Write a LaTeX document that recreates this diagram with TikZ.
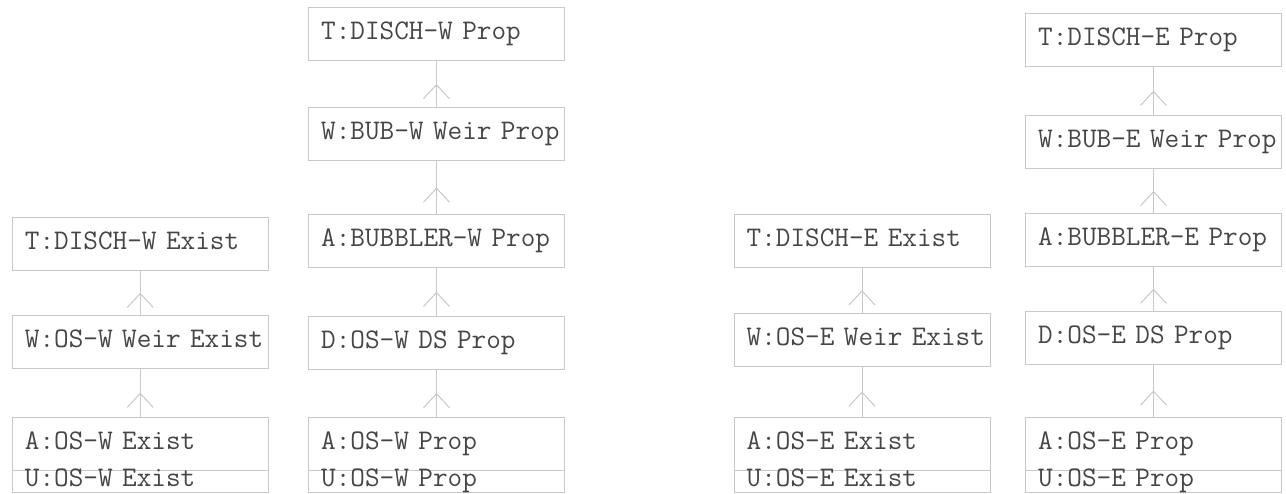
\documentclass[tikz,border=0pt]{standalone}
\usepackage{fontspec}
\usepackage{xcolor}
\usepackage{tikz}
\usetikzlibrary{positioning, arrows.meta, decorations.markings}
\definecolor{boxgray}{RGB}{200,200,200}
\definecolor{textgray}{RGB}{70,70,70}

\begin{document}
\begin{tikzpicture}[x=0.75pt, y=-0.75pt,
  unit/.style={draw=boxgray, line width=0.75pt, outer sep=0pt, inner xsep=9.5pt, text width=173pt, align=left, minimum height=39.75pt, text height=11.25pt, text depth=3pt, font=\ttfamily\fontsize{21.3}{24}\selectfont, text=textgray, execute at begin node={\hbox\bgroup}, execute at end node={\egroup}},
  sub/.style={unit, minimum height=16.9pt, inner ysep=0pt},
  flow/.style={boxgray, line width=0.75pt, postaction={decorate}, decoration={markings, mark=at position 0.5 with {\arrow{Straight Barb[length=10.5pt, width=19.5pt, line width=0.75pt]}}}}]
\useasboundingbox (0,0) rectangle (1286,493);
\node[unit] (dischWex) at (140.25,243.5) {T:DISCH-W Exist};
\node[unit] (weirWex) at (140.25,342) {W:OS-W Weir Exist};
\node[unit] (osWex) at (140.25,443.5) {A:OS-W Exist};
\node[sub, below=0pt of osWex] (usWex) {U:OS-W Exist};
\node[unit] (dischWpr) at (436.5,34) {T:DISCH-W Prop};
\node[unit] (bubW) at (436.5,134) {W:BUB-W Weir Prop};
\node[unit] (bubblerW) at (436.5,241) {A:BUBBLER-W Prop};
\node[unit] (dsW) at (436.5,342.5) {D:OS-W DS Prop};
\node[unit] (osWpr) at (436.5,443.5) {A:OS-W Prop};
\node[sub, below=0pt of osWpr] (usWpr) {U:OS-W Prop};
\node[unit] (dischEex) at (862,241) {T:DISCH-E Exist};
\node[unit] (weirEex) at (862,339.5) {W:OS-E Weir Exist};
\node[unit] (osEex) at (862,443.5) {A:OS-E Exist};
\node[sub, below=0pt of osEex] (usEex) {U:OS-E Exist};
\node[unit] (dischEpr) at (1153.5,39.5) {T:DISCH-E Prop};
\node[unit] (bubE) at (1153.5,142) {W:BUB-E Weir Prop};
\node[unit] (bubblerE) at (1153.5,240) {A:BUBBLER-E Prop};
\node[unit] (dsE) at (1153.5,337.5) {D:OS-E DS Prop};
\node[unit] (osEpr) at (1153.5,443.5) {A:OS-E Prop};
\node[sub, below=0pt of osEpr] (usEpr) {U:OS-E Prop};
\foreach \lo/\hi in {osWex/weirWex, weirWex/dischWex, osWpr/dsW, dsW/bubblerW, bubblerW/bubW, bubW/dischWpr, osEex/weirEex, weirEex/dischEex, osEpr/dsE, dsE/bubblerE, bubblerE/bubE, bubE/dischEpr}
  \draw[flow] (\lo) -- (\hi);
\end{tikzpicture}
\end{document}
